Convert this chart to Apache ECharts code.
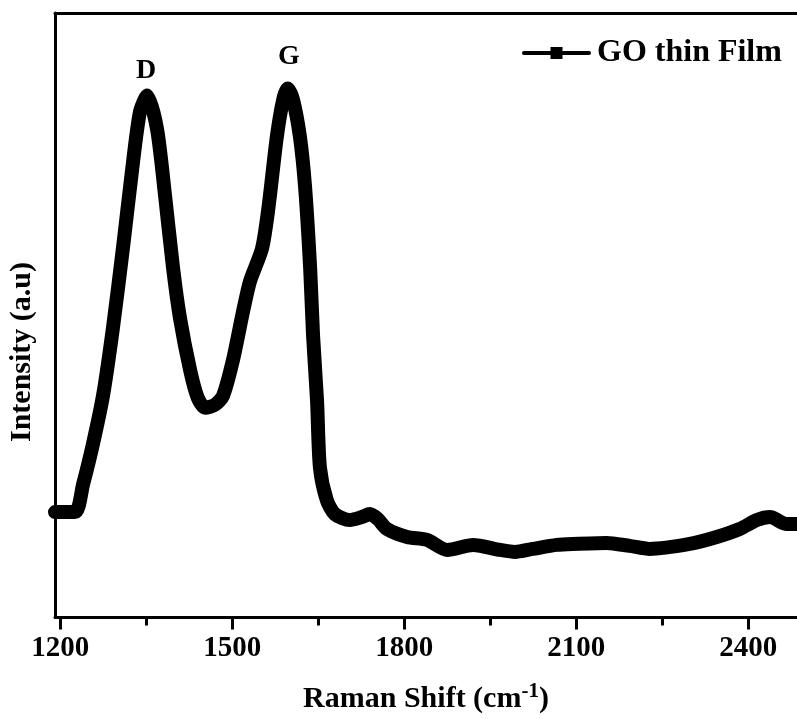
<!DOCTYPE html>
<html>
<head>
<meta charset="utf-8">
<script src="https://cdn.jsdelivr.net/npm/echarts@6/dist/echarts.min.js"></script>
<style>
  html, body { margin: 0; padding: 0; background: #fff; }
  #chart { width: 797px; height: 719px; }
</style>
</head>
<body>
<div id="chart"></div>
<script>
// Raman spectrum of GO thin film
const ramanShift = [1191, 1226, 1240, 1257, 1275, 1292, 1310, 1325, 1339, 1352,
  1369, 1383, 1397, 1409, 1427, 1440, 1453, 1470, 1484, 1501, 1519, 1531, 1552,
  1563, 1578, 1589, 1597, 1606, 1618, 1627, 1636, 1641, 1648, 1653, 1665, 1679,
  1705, 1726, 1740, 1754, 1770, 1805, 1840, 1875, 1920, 1967, 1993, 2024, 2066,
  2094, 2153, 2193, 2228, 2298, 2345, 2385, 2415, 2438, 2467, 2485];
const intensity = [530, 530, 670, 870, 1120, 1455, 1870, 2240, 2540, 2625,
  2455, 2120, 1755, 1505, 1240, 1105, 1055, 1070, 1115, 1290, 1540, 1690, 1855,
  2055, 2420, 2605, 2660, 2605, 2420, 2170, 1755, 1420, 1090, 755, 590, 520,
  490, 505, 520, 495, 445, 405, 390, 340, 365, 340, 330, 345, 365,
  370, 375, 360, 345, 370, 405, 445, 490, 505, 470, 470];
const majorTicks = [1200, 1500, 1800, 2100, 2400];
const minorTicks = [1350, 1650, 1950, 2250];
const peakNames = ['D', 'G'];
const peakShifts = [1350, 1599];
const peakLabelY = [2750, 2820];

const font = '"Liberation Serif", "Times New Roman", serif';
const chart = echarts.init(document.getElementById('chart'));

chart.setOption({
  animation: false,
  backgroundColor: '#fff',
  grid: { left: 55, right: 0, top: 13, bottom: 98 },
  legend: {
    data: ['GO thin Film'],
    left: 517,
    top: 32,
    itemWidth: 65,
    itemHeight: 15,
    lineStyle: { width: 4, color: '#000' },
    itemStyle: { color: '#000' },
    textStyle: { fontFamily: font, fontWeight: 'bold', fontSize: 32, color: '#000', padding: [0, 0, 0, 3] }
  },
  xAxis: [
    {
      type: 'value', min: 1191, max: 2485, position: 'bottom',
      name: '{t|Raman Shift (cm}{s|-1}{t|)}',
      nameLocation: 'middle', nameGap: 64,
      nameTextStyle: {
        rich: {
          t: { fontFamily: font, fontWeight: 'bold', fontSize: 30, color: '#000' },
          s: { fontFamily: font, fontWeight: 'bold', fontSize: 21, color: '#000', verticalAlign: 'top', padding: [0, 0, 14, 0] }
        }
      },
      axisLine: { lineStyle: { color: '#000', width: 3 } },
      axisTick: { customValues: majorTicks, length: 12, lineStyle: { width: 3, color: '#000' } },
      axisLabel: {
        customValues: majorTicks, margin: 17, formatter: v => String(v),
        fontFamily: font, fontWeight: 'bold', fontSize: 29, color: '#000'
      },
      splitLine: { show: false }
    },
    {
      type: 'value', min: 1191, max: 2485, position: 'bottom',
      axisLine: { show: false },
      axisTick: { customValues: minorTicks, length: 8, lineStyle: { width: 3, color: '#000' } },
      axisLabel: { show: false },
      splitLine: { show: false }
    },
    {
      type: 'value', min: 1191, max: 2485, position: 'top',
      axisLine: { lineStyle: { color: '#000', width: 3 } },
      axisTick: { show: false },
      axisLabel: { show: false },
      splitLine: { show: false }
    }
  ],
  yAxis: {
    type: 'value', min: 0, max: 3040,
    axisLine: { show: true, lineStyle: { color: '#000', width: 3 } },
    axisTick: { show: false },
    axisLabel: { show: false },
    splitLine: { show: false }
  },
  graphic: [{
    type: 'text',
    x: 22, y: 352, rotation: Math.PI / 2,
    style: {
      text: 'Intensity (a.u)', fontFamily: font, fontWeight: 'bold', fontSize: 30,
      fill: '#000', align: 'center', verticalAlign: 'middle'
    }
  }],
  series: [{
    name: 'GO thin Film',
    type: 'line',
    data: ramanShift.map((x, i) => [x, intensity[i]]),
    symbol: 'rect',
    symbolSize: 12,
    showSymbol: false,
    smooth: 0.25,
    lineStyle: { color: '#000', width: 14, join: 'round', cap: 'round' },
    itemStyle: { color: '#000' },
    markPoint: {
      symbol: 'rect', symbolSize: 0,
      label: { show: true, position: 'inside', formatter: '{b}', fontFamily: font, fontWeight: 'bold', fontSize: 28, color: '#000' },
      data: peakNames.map((n, i) => ({ name: n, coord: [peakShifts[i], peakLabelY[i]] }))
    }
  }]
});
</script>
</body>
</html>
